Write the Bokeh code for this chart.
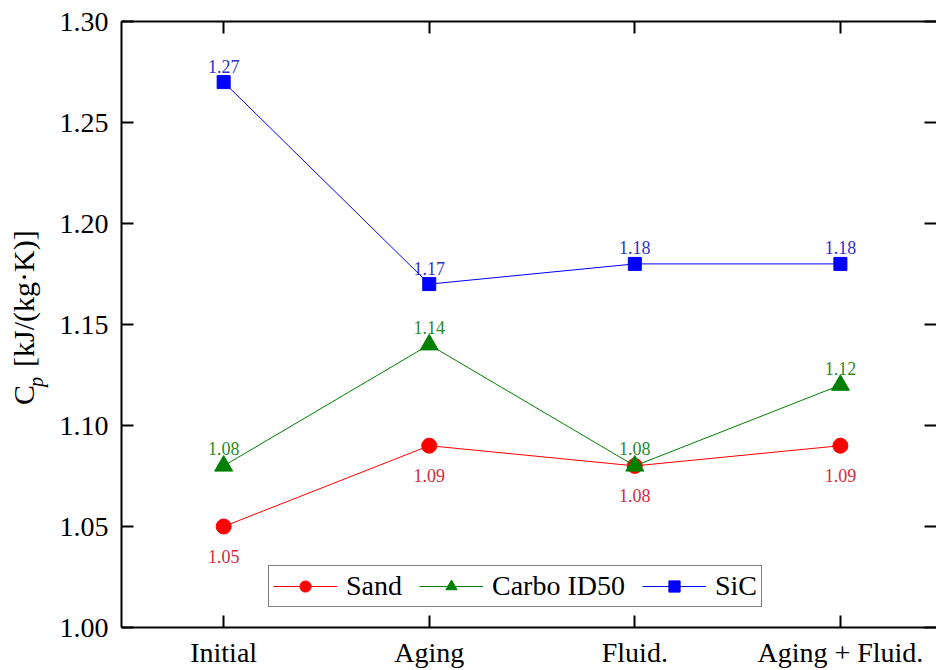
import math
from bokeh.plotting import figure
from bokeh.layouts import row
from bokeh.models import Range1d, LinearAxis, FixedTicker, Legend, ColumnDataSource, CustomLabelingPolicy
from bokeh.core.properties import value
from bokeh.embed import file_html
from bokeh.resources import INLINE

categories = ["Initial", "Aging", "Fluid.", "Aging + Fluid."]
sand = [1.05, 1.09, 1.08, 1.09]
carbo = [1.08, 1.14, 1.08, 1.12]
sic = [1.27, 1.17, 1.18, 1.18]
y_ticks = [1.00, 1.05, 1.10, 1.15, 1.20, 1.25, 1.30]
y_tick_labels = ["1.00", "1.05", "1.10", "1.15", "1.20", "1.25", "1.30"]
y_title_parts = ["C", "p", "[kJ/(kg·K)]"]

FONT = "'Liberation Serif', 'Times New Roman', serif"
xs = list(range(len(categories)))

# ---- narrow figure holding the rotated y-axis title ----
LW, H = 56, 670
t = figure(width=LW, height=H, x_range=Range1d(0, LW), y_range=Range1d(0, H),
           output_backend="svg", toolbar_location=None, x_axis_type=None, y_axis_type=None,
           min_border=0)
t.grid.visible = False
t.outline_line_color = None
t.background_fill_color = "white"
t.border_fill_color = "white"
tsrc = ColumnDataSource(dict(x=[23, 35, 23], y=[246, 266, 288], txt=y_title_parts,
                             fs=["30px", "20px", "30px"], st=["normal", "italic", "normal"]))
t.text("x", "y", text="txt", source=tsrc, angle=math.pi / 2, text_font=value(FONT),
       text_font_size="fs", text_font_style="st", text_color="black",
       text_align="left", text_baseline="alphabetic")

# ---- main chart ----
p = figure(width=936 - LW, height=H, x_range=Range1d(-0.497, 3.4675), y_range=Range1d(1.0, 1.3),
           output_backend="svg", toolbar_location=None,
           min_border_left=121 - LW, min_border_top=21, min_border_right=0, min_border_bottom=0)
p.grid.visible = False
p.outline_line_color = None
p.background_fill_color = "white"
p.border_fill_color = "white"

hide_all = CustomLabelingPolicy(code="for (const i of indices) { indices.unset(i) } return indices")

def style_axis(ax, show_labels=True):
    ax.axis_line_width = 2
    ax.axis_line_color = "black"
    ax.major_tick_line_width = 2
    ax.major_tick_line_color = "black"
    ax.major_tick_in = 12
    ax.major_tick_out = 0
    ax.minor_tick_line_color = None
    ax.major_label_text_font = FONT
    ax.major_label_text_color = "black"
    if show_labels:
        ax.major_label_text_font_size = "28px"
    else:
        ax.major_label_text_font_size = "0px"
        ax.major_label_standoff = 0
        ax.major_label_policy = hide_all

xticker = FixedTicker(ticks=xs)
yticker = FixedTicker(ticks=y_ticks)

xa = p.xaxis[0]
xa.ticker = xticker
xa.major_label_overrides = {i: c for i, c in zip(xs, categories)}
style_axis(xa)
xa.major_label_standoff = 9

ya = p.yaxis[0]
ya.ticker = yticker
ya.major_label_overrides = {tk: l for tk, l in zip(y_ticks, y_tick_labels)}
style_axis(ya)
ya.major_label_standoff = 13

top = LinearAxis(ticker=xticker)
style_axis(top, False)
p.add_layout(top, "above")
right = LinearAxis(ticker=yticker)
style_axis(right, False)
right.axis_line_color = None
p.add_layout(right, "right")

series = [
    ("Sand", sand, "#FF0000", "#D42A3A", "circle", 15, 30),
    ("Carbo ID50", carbo, "#008000", "#2A8A2A", "triangle", 18, -17),
    ("SiC", sic, "#0000FF", "#3030C8", "square", 13, -16),
]

items = []
for name, vals, col, lcol, marker, size, yoff in series:
    src = ColumnDataSource(dict(x=xs, y=vals, t=["%.2f" % v for v in vals]))
    r1 = p.line("x", "y", source=src, line_color=col, line_width=1)
    r2 = p.scatter("x", "y", source=src, marker=marker, size=size, fill_color=col, line_color=col)
    p.text("x", "y", text="t", source=src, text_font=value(FONT), text_font_size="18px",
           text_color=lcol, text_align="center", text_baseline="alphabetic", y_offset=yoff)
    items.append((name, [r1, r2]))

legend = Legend(items=items, orientation="horizontal", location=(147, 20),
                label_text_font=FONT, label_text_font_size="28px", label_text_color="black",
                glyph_width=64, glyph_height=28, label_standoff=9, spacing=17,
                padding=4, margin=0, border_line_color="black", border_line_width=1,
                background_fill_color="white", background_fill_alpha=1.0, label_height=28)
p.add_layout(legend, "center")

layout = row(t, p, spacing=0)
open("out.html", "w").write(file_html(layout, INLINE))
